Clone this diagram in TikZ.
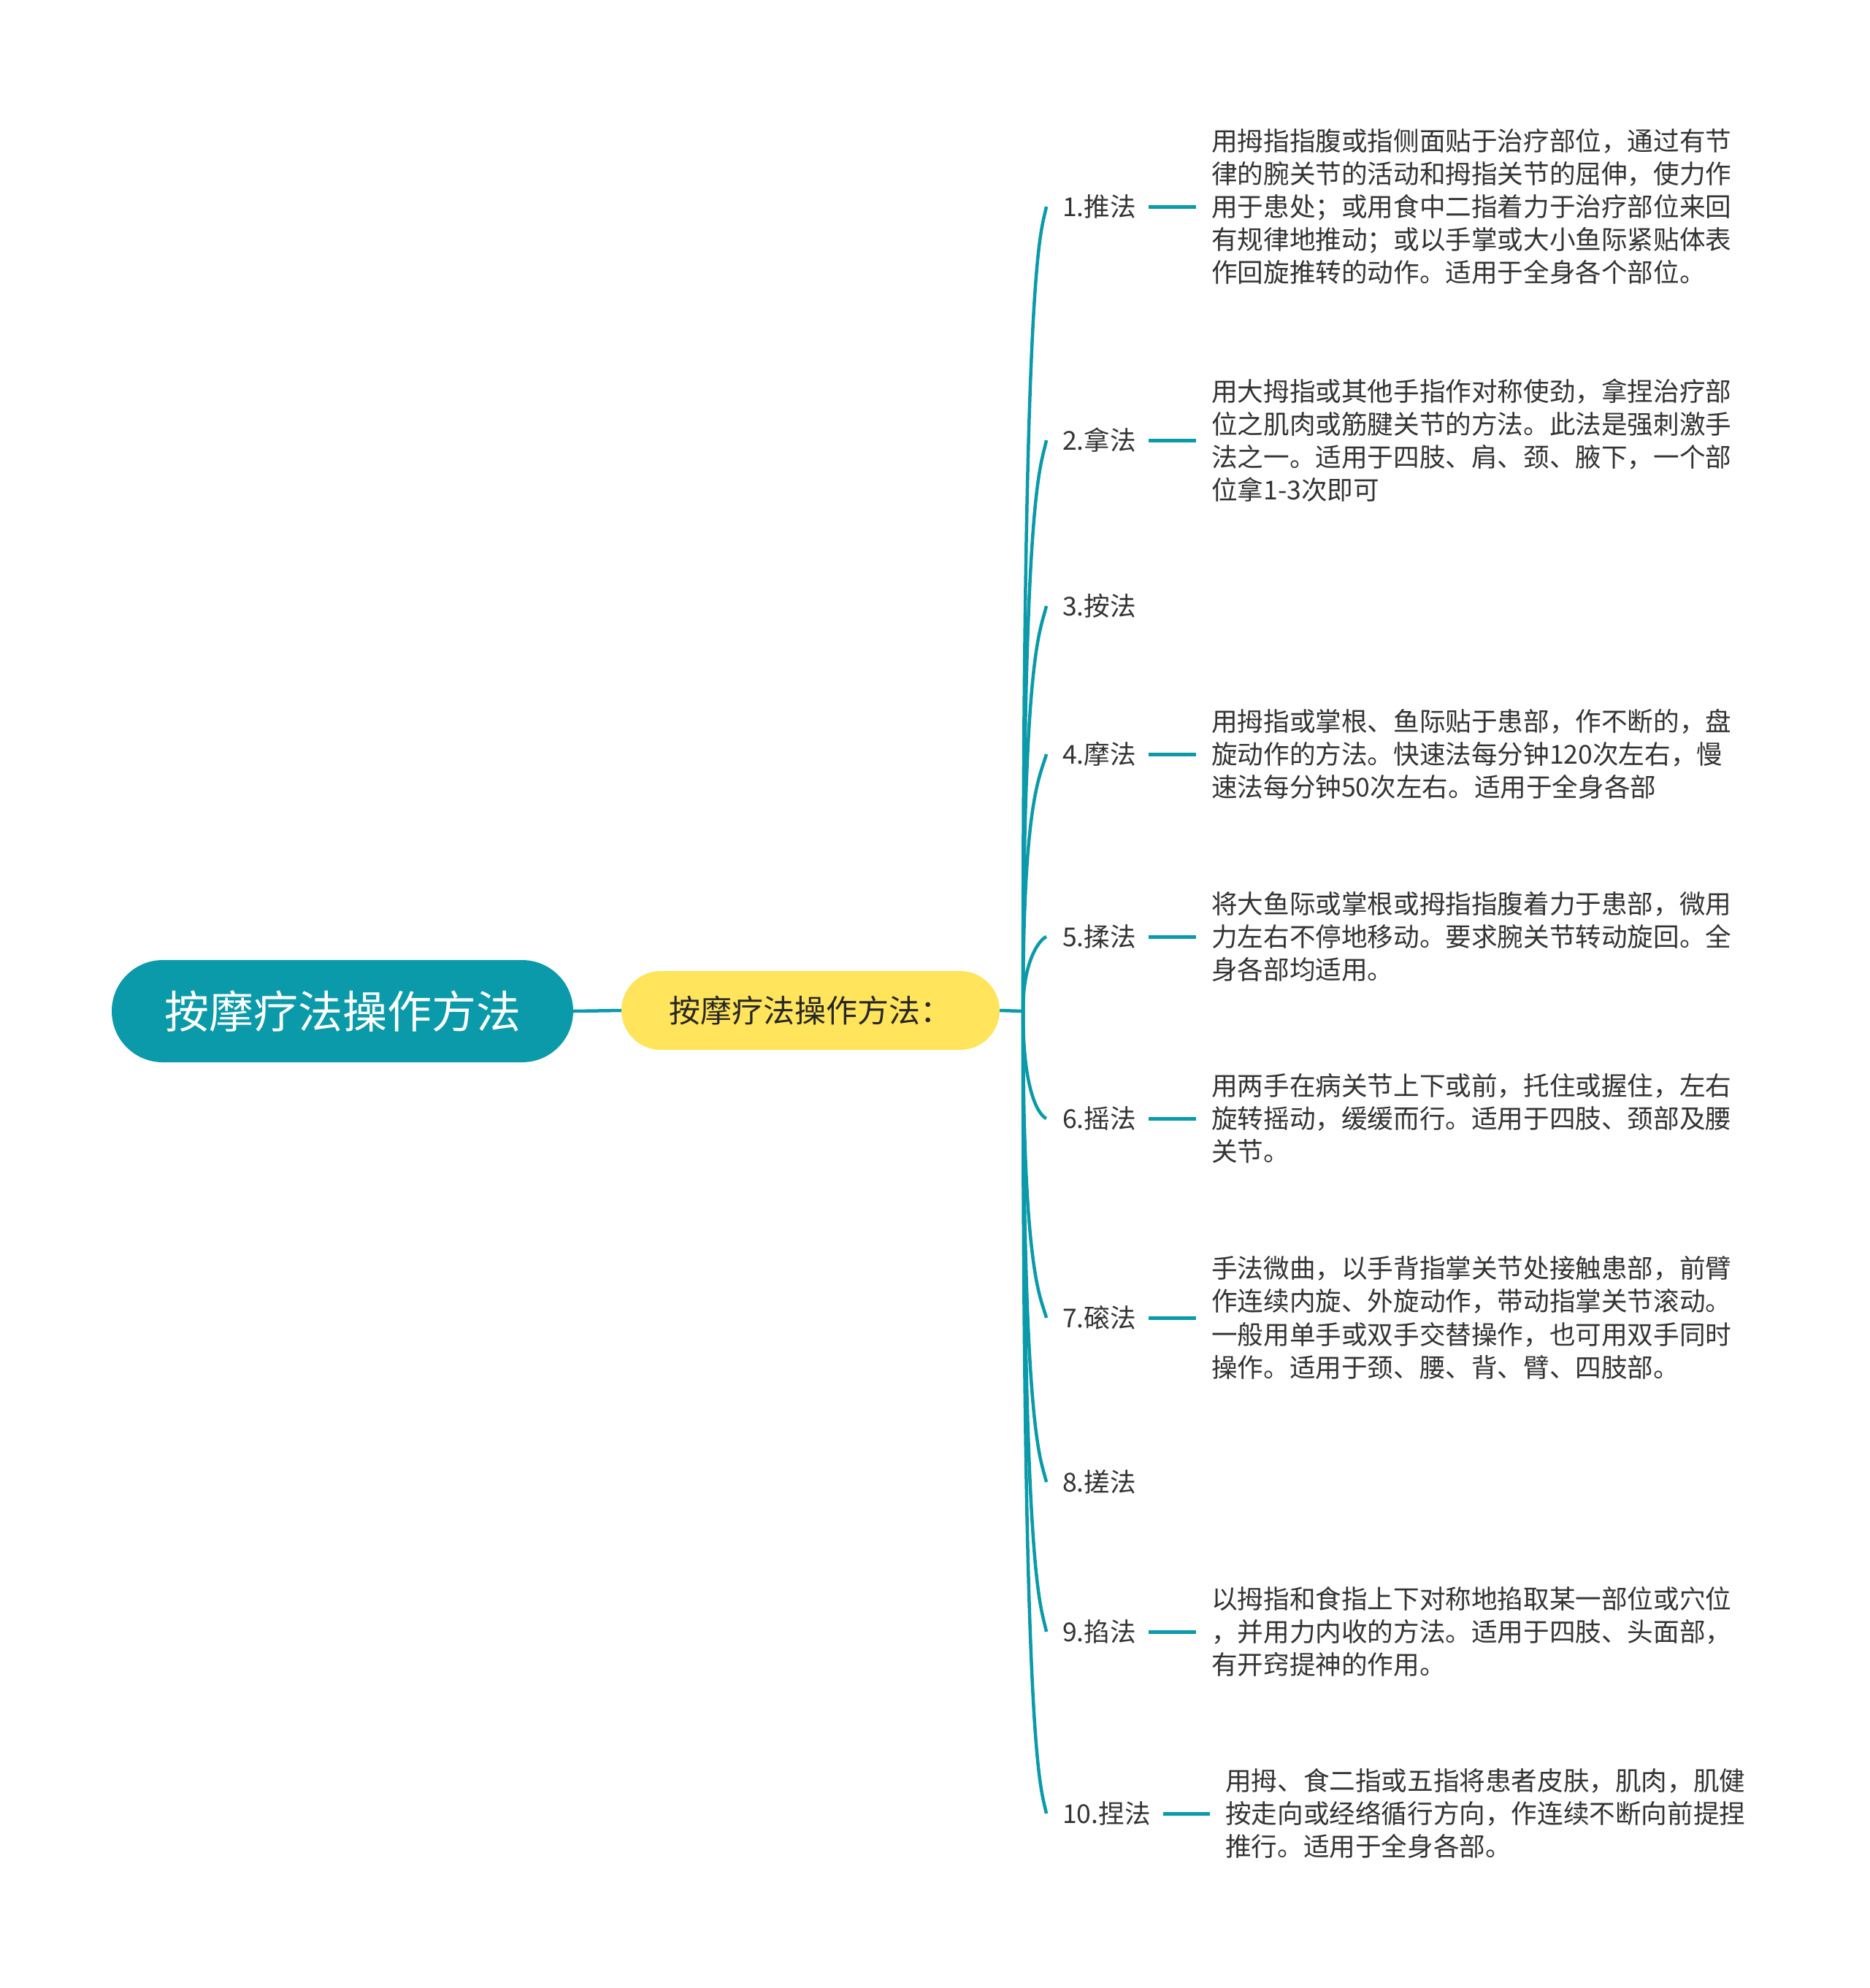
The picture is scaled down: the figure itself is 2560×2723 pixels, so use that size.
\documentclass[tikz,border=0pt]{standalone}
\usepackage{fontspec}
\setmainfont{Noto Sans CJK SC}
\definecolor{teal1}{HTML}{0B9AA9}
\definecolor{yell}{HTML}{FFE45C}
\definecolor{txt}{HTML}{333333}
\tikzset{
  rootbox/.style={fill=teal1, rounded corners=70pt, minimum width=632pt, minimum height=140pt, inner sep=0pt, text=white, font=\fontsize{61}{73}\selectfont},
  subbox/.style={fill=yell, rounded corners=54pt, minimum width=518pt, minimum height=108pt, inner sep=0pt, text=black!85, font=\fontsize{43}{52}\selectfont},
  lbl/.style={anchor=west, inner sep=0pt, text=txt, font=\fontsize{35.6}{45}\selectfont},
  desc/.style={anchor=west, inner sep=0pt, align=left, text=txt, font=\fontsize{35.6}{45.2}\selectfont},
  conn/.style={draw=teal1, line width=4.5pt},
  tick/.style={draw=teal1, line width=5pt},
}
\usetikzlibrary{calc}
\newcommand{\branchto}[3]{\draw[conn] (trunk) .. controls ($(trunk|-#1.west)+(0,#2)$) and ($(#1.west)+(-30pt,#3)$) .. ($(#1.west)+(-22pt,0)$);}
\begin{document}
\begin{tikzpicture}[x=1pt,y=-1pt]
\useasboundingbox (0,0) rectangle (2560,2723);
\node[rootbox] (root) at (469,1385) {按摩疗法操作方法};
\node[subbox] (sub) at (1110,1384) {按摩疗法操作方法：};
\coordinate (trunk) at (1401,1385);
\draw[conn] (root.east) -- (sub.west);
\draw[conn] (sub.east) -- (trunk);

\node[lbl] (l1) at (1455,283) {1.推法};
\node[lbl] (l2) at (1455,603) {2.拿法};
\node[lbl] (l3) at (1455,830) {3.按法};
\node[lbl] (l4) at (1455,1033) {4.摩法};
\node[lbl] (l5) at (1455,1283) {5.揉法};
\node[lbl] (l6) at (1455,1532) {6.摇法};
\node[lbl] (l7) at (1455,1805) {7.磙法};
\node[lbl] (l8) at (1455,2030) {8.搓法};
\node[lbl] (l9) at (1455,2235) {9.掐法};
\node[lbl] (l10) at (1455,2484) {10.捏法};

\node[desc] (d1) at (1659,283) {用拇指指腹或指侧面贴于治疗部位，通过有节\\律的腕关节的活动和拇指关节的屈伸，使力作\\用于患处；或用食中二指着力于治疗部位来回\\有规律地推动；或以手掌或大小鱼际紧贴体表\\作回旋推转的动作。适用于全身各个部位。};
\node[desc] (d2) at (1659,603) {用大拇指或其他手指作对称使劲，拿捏治疗部\\位之肌肉或筋腱关节的方法。此法是强刺激手\\法之一。适用于四肢、肩、颈、腋下，一个部\\位拿1-3次即可};
\node[desc] (d4) at (1659,1033) {用拇指或掌根、鱼际贴于患部，作不断的，盘\\旋动作的方法。快速法每分钟120次左右，慢\\速法每分钟50次左右。适用于全身各部};
\node[desc] (d5) at (1659,1283) {将大鱼际或掌根或拇指指腹着力于患部，微用\\力左右不停地移动。要求腕关节转动旋回。全\\身各部均适用。};
\node[desc] (d6) at (1659,1532) {用两手在病关节上下或前，托住或握住，左右\\旋转摇动，缓缓而行。适用于四肢、颈部及腰\\关节。};
\node[desc] (d7) at (1659,1805) {手法微曲，以手背指掌关节处接触患部，前臂\\作连续内旋、外旋动作，带动指掌关节滚动。\\一般用单手或双手交替操作，也可用双手同时\\操作。适用于颈、腰、背、臂、四肢部。};
\node[desc] (d9) at (1659,2235) {以拇指和食指上下对称地掐取某一部位或穴位\\，并用力内收的方法。适用于四肢、头面部，\\有开窍提神的作用。};
\node[desc] (d10) at (1678,2484) {用拇、食二指或五指将患者皮肤，肌肉，肌健\\按走向或经络循行方向，作连续不断向前提捏\\推行。适用于全身各部。};

\branchto{l1}{60}{40}
\branchto{l2}{60}{40}
\branchto{l3}{60}{35}
\branchto{l4}{60}{30}
\branchto{l5}{30}{3}
\branchto{l6}{-30}{-3}
\branchto{l7}{-60}{-30}
\branchto{l8}{-60}{-35}
\branchto{l9}{-60}{-40}
\branchto{l10}{-60}{-40}

\foreach \i in {1,2,4,5,6,7,9,10}{
  \draw[tick] ($(l\i.east)+(17pt,0)$) -- ($(d\i.west)+(-21pt,0)$);
}
\end{tikzpicture}
\end{document}
